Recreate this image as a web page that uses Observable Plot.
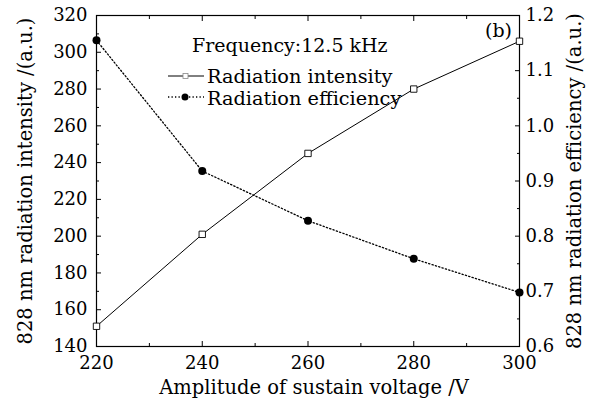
<!DOCTYPE html>
<html>
<head>
<meta charset="utf-8">
<script src="https://cdn.jsdelivr.net/npm/d3@7"></script>
<script src="https://cdn.jsdelivr.net/npm/@observablehq/plot@0.6"></script>
<style>
  html, body { margin: 0; padding: 0; background: #fff; }
  #wrap { position: relative; width: 589px; height: 401px; }
  svg { font-family: "DejaVu Serif", serif; }
</style>
</head>
<body>
<div id="wrap"></div>
<script>
const voltage = [220, 240, 260, 280, 300];
const intensity = [151, 201, 245, 280, 306];
const efficiency = [1.155, 0.918, 0.828, 0.759, 0.698];

const xTicks = [220, 240, 260, 280, 300];
const xMinor = [230, 250, 270, 290];
const leftTicks = [140, 160, 180, 200, 220, 240, 260, 280, 300, 320];
const leftMinor = [150, 170, 190, 210, 230, 250, 270, 290, 310];
const rightTicks = [0.6, 0.7, 0.8, 0.9, 1.0, 1.1, 1.2];
const rightMinor = [0.65, 0.75, 0.85, 0.95, 1.05, 1.15];

const title = "Frequency:12.5 kHz";
const seriesNames = ["Radiation intensity", "Radiation efficiency"];
const xLabel = "Amplitude of sustain voltage /V";
const yLeftLabel = "828 nm radiation intensity /(a.u.)";
const yRightLabel = "828 nm radiation efficiency /(a.u.)";
const panelTag = "(b)";

// map efficiency onto the left scale
const e2i = e => 140 + (e - 0.6) * 300;
const i2e = v => 0.6 + (v - 140) / 300;

const intData = voltage.map((v, i) => ({x: v, y: intensity[i]}));
const effData = voltage.map((v, i) => ({x: v, y: e2i(efficiency[i])}));

const FS = 18;
const noText = () => "";
const DASH = "1.3,2.2";

const chart = Plot.plot({
  width: 589,
  height: 401,
  marginLeft: 96,
  marginRight: 70,
  marginTop: 15,
  marginBottom: 55,
  style: {fontFamily: "DejaVu Serif, serif", fontSize: FS + "px", background: "#fff", color: "#000"},
  x: {domain: [220, 300]},
  y: {domain: [140, 320]},
  marks: [
    Plot.frame({stroke: "#000", strokeWidth: 1.2}),
    Plot.axisX({anchor: "bottom", ticks: xTicks, tickSize: -5, tickPadding: 15, fontSize: FS, label: null}),
    Plot.axisX({anchor: "bottom", ticks: xMinor, tickSize: -3, tickFormat: noText, label: null}),
    Plot.axisX({anchor: "top", ticks: xTicks, tickSize: -5, tickFormat: noText, label: null}),
    Plot.axisX({anchor: "top", ticks: xMinor, tickSize: -3, tickFormat: noText, label: null}),
    Plot.axisY({anchor: "left", ticks: leftTicks, tickSize: -5, tickPadding: 14, fontSize: FS, label: null}),
    Plot.axisY({anchor: "left", ticks: leftMinor, tickSize: -3, tickFormat: noText, label: null}),
    Plot.axisY({anchor: "right", ticks: rightTicks.map(e2i), tickSize: -5, tickPadding: 11, fontSize: FS,
      tickFormat: v => d3.format(".1f")(i2e(v)), label: null}),
    Plot.axisY({anchor: "right", ticks: rightMinor.map(e2i), tickSize: -3, tickFormat: noText, label: null}),
    Plot.line(intData, {x: "x", y: "y", stroke: "#000", strokeWidth: 1}),
    Plot.line(effData, {x: "x", y: "y", stroke: "#000", strokeWidth: 1.3, strokeDasharray: DASH}),
    Plot.dot(intData, {x: "x", y: "y", symbol: "square", r: 3.6, fill: "#fff", stroke: "#000", strokeWidth: 0.9}),
    Plot.dot(effData, {x: "x", y: "y", r: 4, fill: "#000"})
  ]
});
document.getElementById("wrap").appendChild(chart);

// annotations (titles, legend) in an overlay group
const svg = d3.select(chart);
const g = svg.append("g").attr("font-family", "DejaVu Serif, serif").attr("fill", "#000");
const addText = (t, x, y, size, anchor, rot) => {
  const el = g.append("text").text(t).attr("font-size", size).attr("text-anchor", anchor || "start");
  if (rot) el.attr("transform", `translate(${x},${y}) rotate(${rot})`);
  else el.attr("x", x).attr("y", y);
  return el;
};
addText(xLabel, 314, 394, 19.5, "middle");
addText(yLeftLabel, 32, 181, 19.5, "middle", -90);
addText(yRightLabel, 581, 181, 19.5, "middle", -90);
addText(panelTag, 512, 37, 19, "end");
addText(title, 192, 52, 19, "start");
addText(seriesNames[0], 207, 83, 19.3, "start");
addText(seriesNames[1], 207, 105, 19.3, "start");

const rows = [{y: 76, dash: null, kind: "square"}, {y: 97, dash: DASH, kind: "circle"}];
rows.forEach(r => {
  g.append("line").attr("x1", 168).attr("x2", 204).attr("y1", r.y).attr("y2", r.y)
    .attr("stroke", "#000").attr("stroke-width", r.dash ? 1.3 : 1).attr("stroke-dasharray", r.dash);
  if (r.kind === "square") {
    g.append("rect").attr("x", 183).attr("y", r.y - 2.5).attr("width", 5).attr("height", 5)
      .attr("fill", "#fff").attr("stroke", "#888").attr("stroke-width", 0.8);
  } else {
    g.append("circle").attr("cx", 185).attr("cy", r.y).attr("r", 3.5).attr("fill", "#000");
  }
});
</script>
</body>
</html>
